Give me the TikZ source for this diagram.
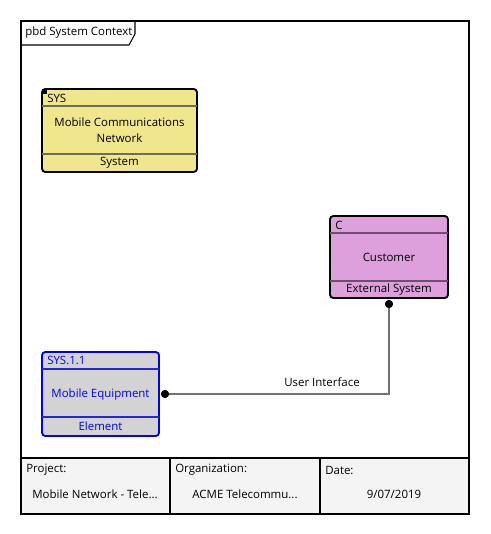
\documentclass[tikz,border=0pt]{standalone}
\usepackage{fontspec}
\setmainfont{Open Sans}
\usetikzlibrary{positioning}
\definecolor{sysfill}{HTML}{F0E68C}
\definecolor{custfill}{HTML}{DDA0DD}
\definecolor{elemfill}{HTML}{D3D3D3}
\definecolor{footfill}{HTML}{F4F4F4}
\definecolor{compline}{HTML}{6E6E50}
\begin{document}
\begin{tikzpicture}[x=0.75pt,y=-0.75pt,font=\fontsize{8.6}{12}\selectfont,
  blockframe/.style={line width=1.4pt,rounded corners=2.5pt},
  compsep/.style={line width=1pt},
  lbl/.style={inner sep=0pt},
  link/.style={draw=gray!90!black,line width=1.2pt},
  pin/.style={fill=black,circle,inner sep=0pt,minimum size=6pt}]
\useasboundingbox (0,0) rectangle (490,534);
% frame and title tab
\draw[line width=1.4pt] (21,21) rectangle (469,514);
\draw[line width=0.8pt] (21,45) -- (129,45) -- (135,34) -- (135,21);
\node[lbl,anchor=west] (title) at (25,33) {pbd System Context};
% SYS block
\draw[blockframe,fill=sysfill] (42,89) rectangle (197,172);
\draw[compsep,draw=compline] (42,106) -- (197,106);
\draw[compsep,draw=compline] (42,154) -- (197,154);
\fill (42,89) rectangle (47,94);
\node[lbl,anchor=west] (sysid) at (47,98) {SYS};
\node[lbl,align=center] (sysname) at (119.5,130) {Mobile Communications\\Network};
\node[lbl] (systype) at (119.5,163) {System};
% Customer block
\draw[blockframe,fill=custfill] (330,216) rectangle (448,298);
\draw[compsep,draw=custfill!50!black] (330,233) -- (448,233);
\draw[compsep,draw=custfill!50!black] (330,281) -- (448,281);
\node[lbl,anchor=west] (custid) at (335,225) {C};
\node[lbl] (custname) at (389,257) {Customer};
\node[lbl] (custtype) at (389,290) {External System};
% Mobile equipment block
\draw[blockframe,draw=blue,fill=elemfill] (42,352) rectangle (159,436);
\draw[compsep,draw=blue!70!gray] (42,369) -- (159,369);
\draw[compsep,draw=blue!70!gray] (42,417) -- (159,417);
\node[lbl,anchor=west,text=blue] (meid) at (47,360) {SYS.1.1};
\node[lbl,text=blue] (mename) at (100.5,395) {Mobile Equipment};
\node[lbl,text=blue] (metype) at (100.5,426) {Element};
% connector
\node[pin] (mepin) at (165,394) {};
\node[pin] (custpin) at (389,304) {};
\draw[link] (mepin.center) -| (custpin.center);
\node[lbl] (uilabel) at (322,382) {User Interface};
\node[pin] at (165,394) {};
\node[pin] at (389,304) {};
% footer
\draw[line width=1.4pt,fill=footfill] (21,458) rectangle (469,514);
\draw[line width=1.4pt] (170,458) -- (170,514);
\draw[line width=1.4pt] (320,458) -- (320,514);
\node[lbl,anchor=west] (projhead) at (26,470) {Project:};
\node[lbl] (projval) at (95,494) {Mobile Network - Tele...};
\node[lbl,anchor=west] (orghead) at (175,470) {Organization:};
\node[lbl] (orgval) at (245,494) {ACME Telecommu...};
\node[lbl,anchor=west] (datehead) at (325,470) {Date:};
\node[lbl] (dateval) at (394,494) {9/07/2019};
\end{tikzpicture}
\end{document}
